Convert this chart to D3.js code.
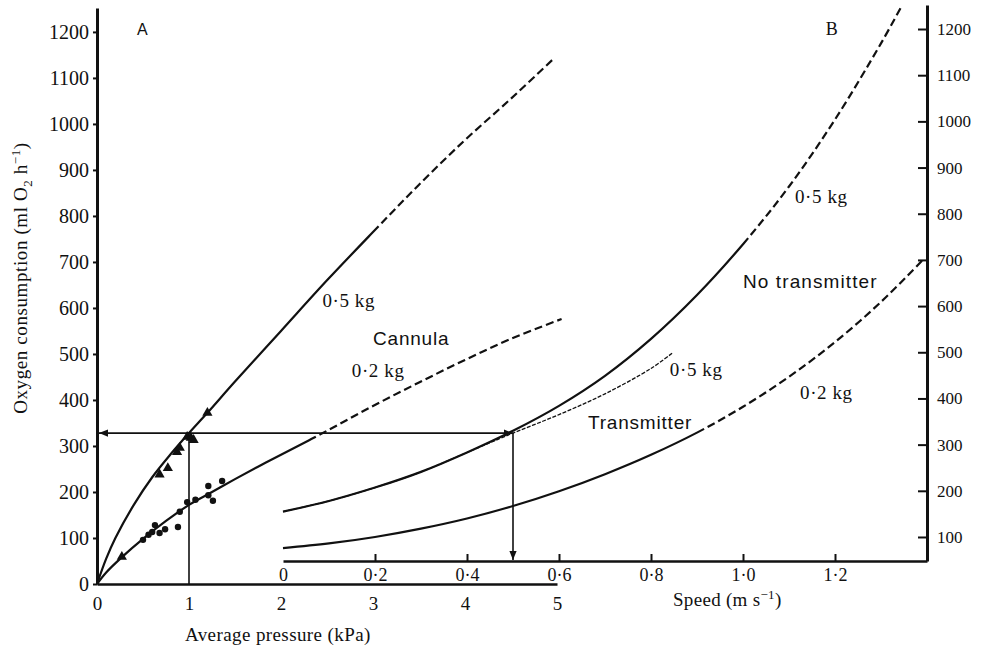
<!DOCTYPE html>
<html>
<head>
<meta charset="utf-8">
<script src="https://cdn.jsdelivr.net/npm/d3@7"></script>
<style>
  body { margin: 0; background: #fff; }
  svg text { fill: #111; }
  .serif { font-family: "Liberation Serif", "DejaVu Serif", serif; }
  .sans { font-family: "Liberation Sans", Arial, sans-serif; }
</style>
</head>
<body>
<div id="chart"></div>
<script>
// Panel A : O2 consumption vs average pressure (cannula)
// Panel B : O2 consumption vs speed (transmitter / no transmitter)

var pressureTicks = [0, 1, 2, 3, 4, 5];
var speedTicks = [0, 0.2, 0.4, 0.6, 0.8, 1.0, 1.2];
var speedTickLabels = ["0", "0·2", "0·4", "0·6", "0·8", "1·0", "1·2"];
var o2TicksLeft = [0, 100, 200, 300, 400, 500, 600, 700, 800, 900, 1000, 1100, 1200];
var o2TicksRight = [100, 200, 300, 400, 500, 600, 700, 800, 900, 1000, 1100, 1200];

// [pressure kPa, ml O2 / h]
var cannula05 = [[0,0],[0.1,55],[0.2,100],[0.4,172],[0.6,232],[0.8,282],[1.0,328],[1.2,372],
  [1.5,440],[2.0,550],[2.5,660],[3.0,765],[3.5,868],[4.0,965],[4.5,1055],[4.97,1143]];
var cannula05DashFrom = 3.0;
var cannula02 = [[0,0],[0.1,25],[0.28,60],[0.5,98],[0.75,137],[1.0,172],[1.25,200],[1.5,228],
  [1.75,255],[2.0,281],[2.5,333],[3.0,387],[3.5,438],[4.0,487],[4.5,533],[5.05,576]];
var cannula02DashFrom = 2.3;

var triangles05 = [[0.27,59],[0.68,238],[0.77,252],[0.87,287],[0.9,296],[0.98,320],[1.02,318],[1.05,313],[1.2,372]];
var dots02 = [[0.5,96],[0.56,107],[0.6,113],[0.63,128],[0.68,111],[0.74,119],[0.88,124],[0.9,157],
  [0.98,178],[1.07,183],[1.21,213],[1.21,193],[1.26,181],[1.36,224]];

// [speed m/s, ml O2 / h]
var noTx05 = [[0,155],[0.1,178],[0.2,207],[0.3,241],[0.4,283],[0.5,330],[0.6,384],[0.7,449],
  [0.8,529],[0.9,624],[1.0,734],[1.1,859],[1.2,1004],[1.3,1169],[1.345,1250]];
var noTx05DashFrom = 1.0;
var tx05 = [[0,155],[0.1,178],[0.2,207],[0.3,241],[0.4,283],[0.5,325],[0.6,365],[0.7,410],[0.8,465],[0.846,498]];
var noTx02 = [[0,76],[0.1,86],[0.2,100],[0.3,118],[0.4,140],[0.5,167],[0.6,199],[0.7,236],[0.8,278],
  [0.9,326],[1.0,382],[1.1,447],[1.2,522],[1.3,609],[1.39,699]];
var noTx02DashFrom = 0.9;

// reading lines
var refPressure = 1.0, refSpeed = 0.5, refO2 = 328;

var W = 985, H = 652;
var svg = d3.select('#chart').append('svg')
  .attr('width', W).attr('height', H);

var defs = svg.append('defs');
defs.append('marker')
  .attr('id', 'arrow')
  .attr('viewBox', '0 0 10 10')
  .attr('refX', 10).attr('refY', 5)
  .attr('markerWidth', 9).attr('markerHeight', 9)
  .attr('markerUnits', 'userSpaceOnUse')
  .attr('orient', 'auto-start-reverse')
  .append('path')
  .attr('d', 'M0,1 L10,5 L0,9 Z')
  .attr('fill', '#111');

// scales
var xA = d3.scaleLinear().domain([0, 5]).range([97, 557]);
var yA = d3.scaleLinear().domain([0, 1252]).range([584, 8]);
var xB = d3.scaleLinear().domain([0, 1.4]).range([283, 927]);
var yB = d3.scaleLinear().domain([48, 1252]).range([561, 5]);

// ---- axes ----
var gLeft = svg.append('g').attr('class', 'serif')
  .attr('transform', 'translate(' + xA(0) + ',0)')
  .call(d3.axisLeft(yA).tickValues(o2TicksLeft).tickSize(4).tickSizeOuter(0).tickPadding(4)
    .tickFormat(function(d) { return d; }));
gLeft.select('.domain').attr('stroke-width', 3).attr('stroke', '#111');
gLeft.selectAll('.tick line').attr('stroke-width', 2).attr('stroke', '#111');
gLeft.selectAll('.tick text').style('font-size', '20px').attr('fill', '#111');

var gBottomA = svg.append('g').attr('class', 'serif')
  .attr('transform', 'translate(0,' + yA(0) + ')')
  .call(d3.axisBottom(xA).tickValues(pressureTicks).tickSize(0).tickPadding(13)
    .tickFormat(function(d) { return d; }));
gBottomA.select('.domain').attr('stroke-width', 2.5).attr('stroke', '#111');
gBottomA.selectAll('.tick text').style('font-size', '19px').attr('fill', '#111');

var gRight = svg.append('g').attr('class', 'serif')
  .attr('transform', 'translate(' + xB(1.4) + ',0)')
  .call(d3.axisRight(yB).tickValues(o2TicksRight).tickSize(-9).tickSizeOuter(0).tickPadding(10)
    .tickFormat(function(d) { return d; }));
gRight.select('.domain').attr('stroke-width', 3).attr('stroke', '#111');
gRight.selectAll('.tick line').attr('stroke-width', 2).attr('stroke', '#111');
gRight.selectAll('.tick text').style('font-size', '17px').attr('fill', '#111');

var gBottomB = svg.append('g').attr('class', 'serif')
  .attr('transform', 'translate(0,' + yB(48) + ')')
  .call(d3.axisBottom(xB).tickValues(speedTicks).tickSize(-7).tickSizeOuter(0).tickPadding(7)
    .tickFormat(function(d, i) { return speedTickLabels[i]; }));
gBottomB.select('.domain').attr('stroke-width', 2.5).attr('stroke', '#111');
gBottomB.selectAll('.tick line').attr('stroke-width', 2).attr('stroke', '#111')
  .filter(function(d) { return d === 0; }).remove();
gBottomB.selectAll('.tick text').style('font-size', '18px').attr('fill', '#111');

// ---- curves ----
// one path per series; the part after dashFrom gets dashed via a computed dasharray
function drawSeries(pts, xs, ys, dashFrom, width, dashPattern) {
  var line = d3.line()
    .x(function(d) { return xs(d[0]); })
    .y(function(d) { return ys(d[1]); })
    .curve(d3.curveCatmullRom.alpha(0.5));
  var path = svg.append('path').datum(pts)
    .attr('d', line).attr('fill', 'none').attr('stroke', '#111')
    .attr('stroke-width', width)
    .attr('stroke-dasharray', dashPattern || null);
  if (dashFrom != null) {
    var node = path.node();
    var total = node.getTotalLength();
    var target = xs(dashFrom), lo = 0, hi = total;
    for (var k = 0; k < 40; k++) {
      var mid = (lo + hi) / 2;
      if (node.getPointAtLength(mid).x < target) lo = mid; else hi = mid;
    }
    var dash = [lo, 0];
    for (var s = lo; s < total + 12; s += 12) dash.push(8, 4);
    path.attr('stroke-dasharray', dash.join(','));
  }
}

drawSeries(cannula05, xA, yA, cannula05DashFrom, 2.2);
drawSeries(cannula02, xA, yA, cannula02DashFrom, 2.2);
drawSeries(noTx05, xB, yB, noTx05DashFrom, 2.2);
drawSeries(tx05, xB, yB, null, 1.3, '4,1.5');
drawSeries(noTx02, xB, yB, noTx02DashFrom, 2.2);

// markers
svg.append('g').selectAll('path').data(triangles05).enter().append('path')
  .attr('d', d3.symbol().type(d3.symbolTriangle).size(45))
  .attr('transform', function(d) { return 'translate(' + xA(d[0]) + ',' + yA(d[1]) + ')'; })
  .attr('fill', '#111');
svg.append('g').selectAll('circle').data(dots02).enter().append('circle')
  .attr('cx', function(d) { return xA(d[0]); })
  .attr('cy', function(d) { return yA(d[1]); })
  .attr('r', 3.2)
  .attr('fill', '#111');

// reading lines with arrows
var refY = yA(refO2);
svg.append('line')
  .attr('x1', xB(refSpeed)).attr('y1', refY)
  .attr('x2', xA(0) + 2).attr('y2', refY)
  .attr('stroke', '#111').attr('stroke-width', 1.6)
  .attr('marker-start', 'url(#arrow)').attr('marker-end', 'url(#arrow)');
svg.append('line')
  .attr('x1', xA(refPressure)).attr('y1', refY)
  .attr('x2', xA(refPressure)).attr('y2', yA(0))
  .attr('stroke', '#111').attr('stroke-width', 1.6);
svg.append('line')
  .attr('x1', xB(refSpeed)).attr('y1', refY)
  .attr('x2', xB(refSpeed)).attr('y2', yB(48) - 1)
  .attr('stroke', '#111').attr('stroke-width', 1.6)
  .attr('marker-end', 'url(#arrow)');

// ---- labels ----
function label(text, x, y, cls, size, spacing) {
  return svg.append('text')
    .attr('class', cls)
    .attr('x', x).attr('y', y)
    .style('font-size', size + 'px')
    .style('letter-spacing', (spacing || 0) + 'px')
    .text(text);
}

label('A', xA(0.435), yA(1193), 'sans', 16);
label('B', xB(1.18), yB(1187), 'serif', 18);

label('0·5 kg', xA(2.45), yA(602), 'serif', 19, 0.6);
label('Cannula', xA(3.0), yA(520), 'sans', 19, 0.8);
label('0·2 kg', xA(2.77), yA(450), 'serif', 19, 0.6);

label('Transmitter', xB(0.663), yB(334), 'sans', 19, 0.8);
label('0·5 kg', xB(0.841), yB(449), 'serif', 19, 0.6);
label('No transmitter', xB(1.0), yB(639), 'sans', 19, 1.1);
label('0·5 kg', xB(1.113), yB(823), 'serif', 19, 0.6);
label('0·2 kg', xB(1.124), yB(399), 'serif', 19, 0.6);

// axis titles
label('Average pressure (kPa)', 185, 641, 'serif', 19, 0.4);

var sp = label('Speed (m s', 673, 606, 'serif', 19, 0.3);
sp.append('tspan').attr('dy', -7).style('font-size', '13px').text('−1');
sp.append('tspan').attr('dy', 7).text(')');

var yt = svg.append('text')
  .attr('class', 'serif')
  .attr('transform', 'translate(27,278) rotate(-90)')
  .attr('text-anchor', 'middle')
  .style('font-size', '19px')
  .style('letter-spacing', '0.6px');
yt.append('tspan').text('Oxygen consumption (ml O');
yt.append('tspan').attr('dy', 5).style('font-size', '13px').text('2');
yt.append('tspan').attr('dy', -5).text(' h');
yt.append('tspan').attr('dy', -7).style('font-size', '13px').text('−1');
yt.append('tspan').attr('dy', 7).text(')');
</script>
</body>
</html>
